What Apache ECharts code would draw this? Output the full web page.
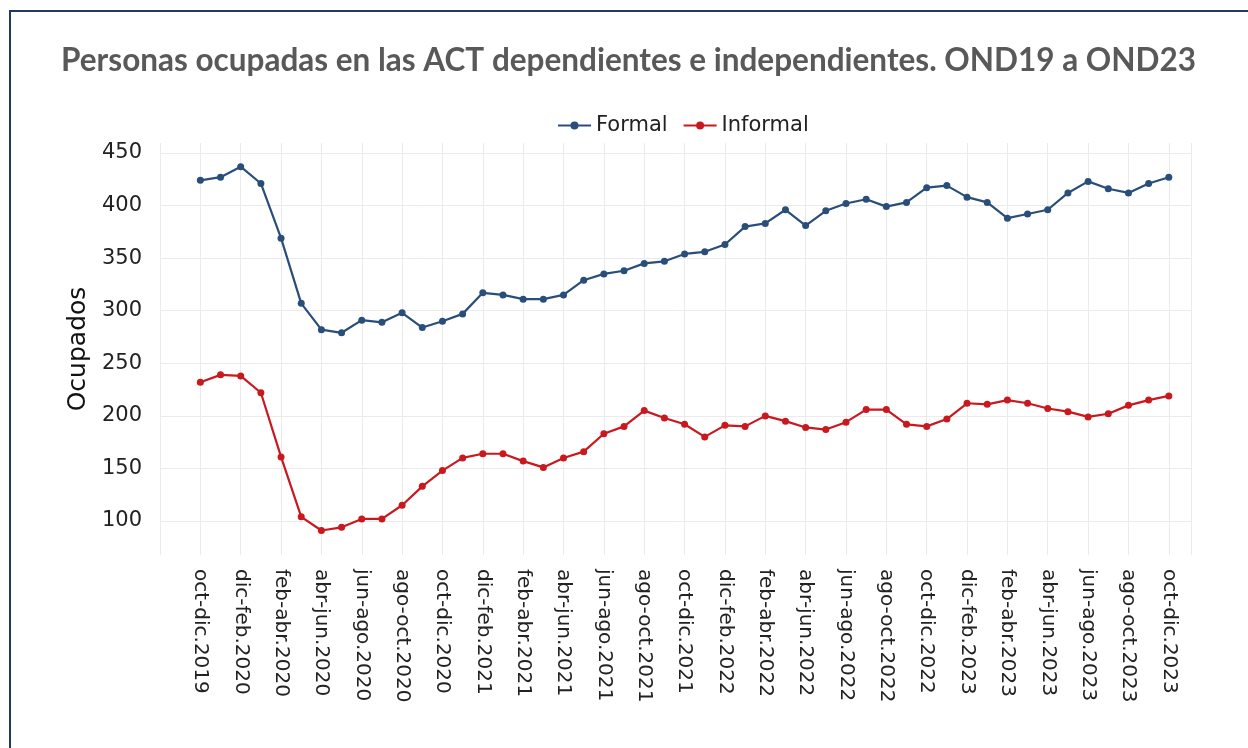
<!DOCTYPE html>
<html>
<head>
    <meta charset="utf-8">
    <title>Personas ocupadas en las ACT</title>
    <script src="https://cdn.jsdelivr.net/npm/echarts@6/dist/echarts.min.js"></script>
    <style>
        html, body { margin: 0; padding: 0; background: #fff; }
        #frame {
            position: absolute; left: 9px; top: 10px; right: 0; bottom: 0;
            border-top: 2px solid #1f3864; border-left: 2px solid #1f3864;
            pointer-events: none;
        }
        #main { width: 1248px; height: 748px; }
    </style>
</head>
<body>
<div id="main"></div>
<div id="frame"></div>

<script type="text/javascript">
    // trimestres moviles, oct-dic 2019 a oct-dic 2023
    var categories = [
        'oct-dic.2019', 'nov-ene.2020', 'dic-feb.2020', 'ene-mar.2020', 'feb-abr.2020', 'mar-may.2020',
        'abr-jun.2020', 'may-jul.2020', 'jun-ago.2020', 'jul-sep.2020', 'ago-oct.2020', 'sep-nov.2020',
        'oct-dic.2020', 'nov-ene.2021', 'dic-feb.2021', 'ene-mar.2021', 'feb-abr.2021', 'mar-may.2021',
        'abr-jun.2021', 'may-jul.2021', 'jun-ago.2021', 'jul-sep.2021', 'ago-oct.2021', 'sep-nov.2021',
        'oct-dic.2021', 'nov-ene.2022', 'dic-feb.2022', 'ene-mar.2022', 'feb-abr.2022', 'mar-may.2022',
        'abr-jun.2022', 'may-jul.2022', 'jun-ago.2022', 'jul-sep.2022', 'ago-oct.2022', 'sep-nov.2022',
        'oct-dic.2022', 'nov-ene.2023', 'dic-feb.2023', 'ene-mar.2023', 'feb-abr.2023', 'mar-may.2023',
        'abr-jun.2023', 'may-jul.2023', 'jun-ago.2023', 'jul-sep.2023', 'ago-oct.2023', 'sep-nov.2023',
        'oct-dic.2023'
    ];

    var formal = [
        424, 427, 437, 421, 369, 307, 282, 279, 291, 289, 298, 284,
        290, 297, 317, 315, 311, 311, 315, 329, 335, 338, 345, 347,
        354, 356, 363, 380, 383, 396, 381, 395, 402, 406, 399, 403,
        417, 419, 408, 403, 388, 392, 396, 412, 423, 416, 412, 421,
        427
    ];

    var informal = [
        232, 239, 238, 222, 161, 104, 91, 94, 102, 102, 115, 133,
        148, 160, 164, 164, 157, 151, 160, 166, 183, 190, 205, 198,
        192, 180, 191, 190, 200, 195, 189, 187, 194, 206, 206, 192,
        190, 197, 212, 211, 215, 212, 207, 204, 199, 202, 210, 215,
        219
    ];

    function toPoints(arr) {
        return arr.map(function (v, i) { return [i, v]; });
    }

    var myChart = echarts.init(document.getElementById('main'));

    var option = {
        animation: false,
        color: ['#294e7a', '#c9191e'],
        title: {
            text: 'Personas ocupadas en las ACT dependientes e independientes. OND19 a OND23',
            left: 56,
            top: 40,
            textStyle: {
                fontFamily: 'Lato',
                fontWeight: 'bold',
                fontSize: 31.5,
                color: '#595959'
            }
        },
        legend: {
            data: ['Formal', 'Informal'],
            left: 552,
            top: 110,
            itemWidth: 33,
            itemHeight: 10,
            itemGap: 15,
            textStyle: {fontFamily: 'DejaVu Sans', fontSize: 21, color: '#222'}
        },
        grid: {
            left: 160,
            right: 57,
            top: 143,
            bottom: 193
        },
        xAxis: {
            type: 'value',
            min: -2,
            max: 49.1,
            interval: 2,
            axisLine: {show: false},
            axisTick: {show: false},
            splitLine: {lineStyle: {color: '#ebebeb', width: 1}},
            axisLabel: {
                rotate: -90,
                margin: 14,
                fontFamily: 'DejaVu Sans',
                fontSize: 20,
                color: '#222',
                showMaxLabel: false,
                formatter: function (v) {
                    return categories[v] !== undefined ? categories[v] : '';
                }
            }
        },
        yAxis: {
            type: 'value',
            min: 67.7,
            max: 459.5,
            splitNumber: 8,
            name: 'Ocupados',
            nameLocation: 'middle',
            nameGap: 55,
            nameTextStyle: {fontFamily: 'DejaVu Sans', fontSize: 25, color: '#111'},
            axisLine: {show: false},
            axisTick: {show: false},
            splitLine: {
                showMinLine: false,
                showMaxLine: false,
                lineStyle: {color: '#ebebeb', width: 1}
            },
            axisLabel: {
                margin: 18,
                fontFamily: 'DejaVu Sans',
                fontSize: 21,
                color: '#222',
                showMinLabel: false,
                showMaxLabel: false
            }
        },
        series: [
            {
                name: 'Formal',
                type: 'line',
                symbol: 'circle',
                symbolSize: 7,
                lineStyle: {width: 2.2},
                data: toPoints(formal)
            },
            {
                name: 'Informal',
                type: 'line',
                symbol: 'circle',
                symbolSize: 7,
                lineStyle: {width: 2.2},
                data: toPoints(informal)
            }
        ]
    };
    myChart.setOption(option);
</script>
</body>
</html>
